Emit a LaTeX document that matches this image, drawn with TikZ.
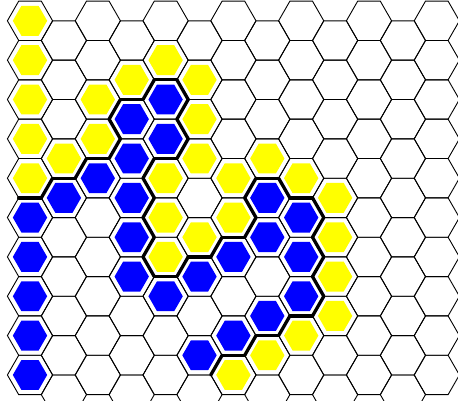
\documentclass[tikz,border=0pt]{standalone}
\definecolor{hexyellow}{RGB}{255,255,0}
\definecolor{hexblue}{RGB}{0,0,255}
\tikzset{
  cellline/.style={draw=black, line width=0.9pt, line join=miter},
  wall/.style={draw=black, line width=3.3pt, line cap=round},
  ystone/.style={fill=hexyellow},
  bstone/.style={fill=hexblue},
}
\newcommand\cellpos[2]{%
  \pgfmathsetmacro\hcx{30+33.9*#1}%
  \pgfmathsetmacro\hcy{-(20.8+39.35*#2+19.675*mod(#1,2))}%
}
\newcommand\hexpath[3]{%
  (#1+22.6*#3,#2) -- (#1+11.3*#3,#2+19.675*#3) -- (#1-11.3*#3,#2+19.675*#3) --
  (#1-22.6*#3,#2) -- (#1-11.3*#3,#2-19.675*#3) -- (#1+11.3*#3,#2-19.675*#3) -- cycle}
\newcommand\wallat[3]{%
  \cellpos{#1}{#2}%
  \draw[wall] ({\hcx+22.6*cos(#3-30)},{\hcy+22.719*sin(#3-30)}) --
              ({\hcx+22.6*cos(#3+30)},{\hcy+22.719*sin(#3+30)});%
}
\begin{document}
\begin{tikzpicture}[x=1pt,y=1pt]
  \useasboundingbox (0,0) rectangle (458,-400);
  \clip (0,0) rectangle (458,-400);
  % yellow stones
  \foreach \c/\j in {0/0,0/1,0/2,0/3,0/4,1/3,2/2,2/3,3/1,4/1,4/4,4/5,4/6,
                     5/1,5/2,5/3,5/5,6/4,6/5,6/9,7/3,7/8,8/4,8/8,9/4,9/5,9/6,9/7}
    {\cellpos{\c}{\j}\fill[ystone] \hexpath{\hcx}{\hcy}{0.76};}
  % blue stones
  \foreach \c/\j in {0/5,0/6,0/7,0/8,0/9,1/4,2/4,3/2,3/3,3/4,3/5,3/6,4/2,4/3,4/7,
                     5/6,5/8,6/6,6/8,7/4,7/5,7/7,8/5,8/6,8/7}
    {\cellpos{\c}{\j}\fill[bstone] \hexpath{\hcx}{\hcy}{0.76};}
  % grid
  \foreach \c in {0,...,12}
    \foreach \j in {0,...,9}
      {\cellpos{\c}{\j}\draw[cellline] \hexpath{\hcx}{\hcy}{1};}
  % walls between yellow and blue
  \foreach \c/\j/\a in {0/5/90, 1/4/90, 1/4/150, 2/4/90, 2/4/150,
      3/2/90, 3/2/150, 3/2/210, 3/3/330, 3/3/150, 3/4/30, 3/4/330,
      3/5/30, 3/5/330, 3/6/30,
      4/2/90, 4/2/30, 4/2/330, 4/2/150, 4/3/30, 4/3/330, 4/3/270, 4/7/90,
      5/6/90, 5/6/150, 5/8/330, 6/6/90, 6/6/150, 6/8/330, 6/8/270,
      7/4/90, 7/4/30, 7/4/150, 7/4/210, 7/5/150, 7/7/330, 7/7/270,
      8/5/90, 8/5/30, 8/5/330, 8/6/30, 8/6/330, 8/7/30, 8/7/330, 8/7/270}
    {\wallat{\c}{\j}{\a}}
\end{tikzpicture}
\end{document}
